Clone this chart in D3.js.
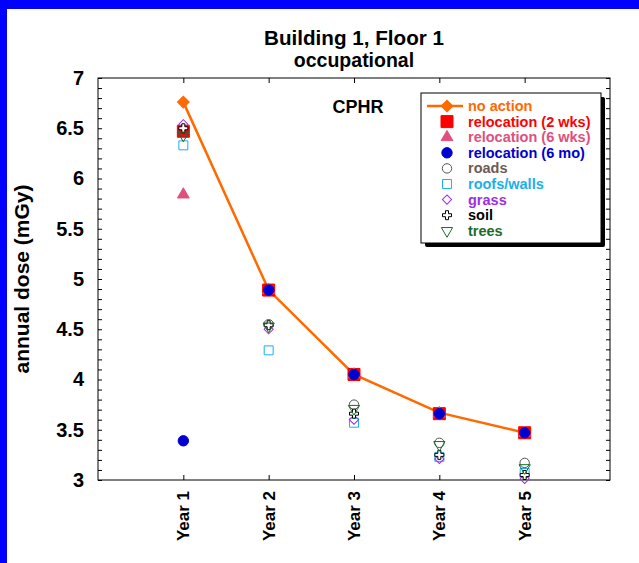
<!DOCTYPE html>
<html>
<head>
<meta charset="utf-8">
<script src="https://cdn.jsdelivr.net/npm/d3@7"></script>
<style>
  html, body { margin: 0; padding: 0; background: #fff; }
  svg text { font-family: "Liberation Sans", Arial, Helvetica, sans-serif; font-weight: bold; }
</style>
</head>
<body>
<svg id="chart" width="639" height="563"></svg>
<script>
// Annual dose by year for each remediation option
const years = ["Year 1", "Year 2", "Year 3", "Year 4", "Year 5"];
const yTicks = [3, 3.5, 4, 4.5, 5, 5.5, 6, 6.5, 7];

const noAction    = [6.76, 4.89, 4.05, 3.67, 3.47];
const reloc2wks   = [6.47, 4.89, 4.05, 3.66, 3.47];
const reloc6wks   = [5.84, 4.89, 4.05, 3.66, 3.47];
const reloc6mo    = [3.39, 4.89, 4.05, 3.66, 3.47];
const roads       = [6.47, 4.55, 3.75, 3.37, 3.17];
const roofsWalls  = [6.33, 4.29, 3.57, 3.23, 3.07];
const grass       = [6.54, 4.50, 3.60, 3.21, 3.01];
const soil        = [6.50, 4.54, 3.66, 3.25, 3.05];
const trees       = [6.43, 4.53, 3.71, 3.35, 3.12];

const svg = d3.select("#chart");

// blue frame on the left and top
svg.append("rect").attr("x", 0).attr("y", 0).attr("width", 639).attr("height", 9).attr("fill", "#0000ff");
svg.append("rect").attr("x", 0).attr("y", 0).attr("width", 7).attr("height", 563).attr("fill", "#0000ff");

const pLeft = 98, pRight = 610, pTop = 78, pBottom = 480;
const x = d3.scaleLinear().domain([0, 6]).range([pLeft, pRight]);
const y = d3.scaleLinear().domain([3, 7]).range([pBottom, pTop]);

// title
svg.append("text").attr("x", (pLeft + pRight) / 2).attr("y", 45).attr("text-anchor", "middle")
  .attr("font-size", 19.5).attr("textLength", 180).attr("lengthAdjust", "spacingAndGlyphs")
  .text("Building 1, Floor 1");
svg.append("text").attr("x", (pLeft + pRight) / 2).attr("y", 67).attr("text-anchor", "middle")
  .attr("font-size", 19.5).text("occupational");

// plot frame
svg.append("rect").attr("x", pLeft).attr("y", pTop).attr("width", pRight - pLeft).attr("height", pBottom - pTop)
  .attr("fill", "none").attr("stroke", "#000").attr("stroke-width", 1);

// minor y ticks every 0.1 on left and right sides, pointing inward
const minor = d3.range(30, 71).map(v => v / 10);
const yAxisL = d3.axisRight(y).tickValues(minor).tickSize(4).tickFormat("");
const yAxisR = d3.axisLeft(y).tickValues(minor).tickSize(4).tickFormat("");
svg.append("g").attr("transform", `translate(${pLeft},0)`).call(yAxisL).call(g => g.select(".domain").remove());
svg.append("g").attr("transform", `translate(${pRight},0)`).call(yAxisR).call(g => g.select(".domain").remove());

// y tick labels
svg.append("g").attr("transform", `translate(${pLeft},0)`)
  .call(d3.axisLeft(y).tickValues(yTicks).tickSize(0).tickPadding(14).tickFormat(d3.format("")))
  .call(g => g.select(".domain").remove())
  .call(g => g.selectAll("text").attr("font-size", 20).attr("fill", "#000")
    .style("font-family", "'Liberation Sans', Arial, sans-serif").style("font-weight", "bold"));

// x ticks at each year, top and bottom, pointing inward
const xIdx = [1, 2, 3, 4, 5];
svg.append("g").attr("transform", `translate(0,${pTop})`)
  .call(d3.axisBottom(x).tickValues(xIdx).tickSize(5).tickFormat(""))
  .call(g => g.select(".domain").remove());
svg.append("g").attr("transform", `translate(0,${pBottom})`)
  .call(d3.axisTop(x).tickValues(xIdx).tickSize(5).tickFormat(""))
  .call(g => g.select(".domain").remove());

// rotated year labels
svg.append("g").selectAll("text").data(years).join("text")
  .attr("transform", (d, i) => `translate(${x(i + 1) + 6},${pBottom + 11}) rotate(-90)`)
  .attr("text-anchor", "end").attr("font-size", 17).text(d => d);

// y axis title
svg.append("text").attr("transform", `translate(29,${(pTop + pBottom) / 2}) rotate(-90)`)
  .attr("text-anchor", "middle").attr("font-size", 21).text("annual dose (mGy)");

// CPHR tag
svg.append("text").attr("x", 358).attr("y", 113).attr("text-anchor", "middle")
  .attr("font-size", 18).text("CPHR");

// marker definitions (diamonds are squares turned 45 degrees)
const sym = (type, size) => d3.symbol().type(type).size(size)();
const series = [
  { name: "no action", vals: noAction, color: "#ff6a00", text: "#ff6a00", path: sym(d3.symbolSquare, 70), fill: "#ff6a00", line: true, rot: 45 },
  { name: "relocation (2 wks)", vals: reloc2wks, color: "#ff0000", text: "#ff0000", path: sym(d3.symbolSquare, 144), fill: "#ff0000" },
  { name: "relocation (6 wks)", vals: reloc6wks, color: "#e0507c", text: "#e0507c", path: sym(d3.symbolTriangle, 60), fill: "#e0507c" },
  { name: "relocation (6 mo)", vals: reloc6mo, color: "#0000d0", text: "#0000d0", path: sym(d3.symbolCircle, 85), fill: "#0000d0" },
  { name: "roads", vals: roads, color: "#555", text: "#6e5a55", path: sym(d3.symbolCircle, 70), fill: "none" },
  { name: "roofs/walls", vals: roofsWalls, color: "#1ab0ea", text: "#1ab0ea", path: sym(d3.symbolSquare, 80), fill: "none" },
  { name: "grass", vals: grass, color: "#9b30e0", text: "#9b30e0", path: sym(d3.symbolSquare, 42), fill: "none", rot: 45 },
  { name: "soil", vals: soil, color: "#000", text: "#000", path: sym(d3.symbolCross, 45), fill: "#fff" },
  { name: "trees", vals: trees, color: "#1b6b2b", text: "#1b6b2b", path: sym(d3.symbolTriangle, 55), fill: "none", rot: 180 }
];
const rotStr = s => (s.rot ? ` rotate(${s.rot})` : "");

// no action line
svg.append("path").datum(noAction)
  .attr("d", d3.line().x((d, i) => x(i + 1)).y(d => y(d)))
  .attr("fill", "none").attr("stroke", "#ff6a00").attr("stroke-width", 2.5);

// markers
series.forEach(s => {
  svg.append("g").selectAll("path").data(s.vals).join("path")
    .attr("d", s.path)
    .attr("transform", (d, i) => `translate(${x(i + 1)},${y(d)})` + rotStr(s))
    .attr("fill", s.fill).attr("stroke", s.color).attr("stroke-width", 1);
});

// legend
const lg = svg.append("g");
const lx = 421, ly = 93, lw = 180, lh = 150;
lg.append("rect").attr("x", lx + 4).attr("y", ly + 4).attr("width", lw).attr("height", lh).attr("fill", "#000").attr("rx", 2);
lg.append("rect").attr("x", lx).attr("y", ly).attr("width", lw).attr("height", lh).attr("fill", "#fff").attr("stroke", "#000");
series.forEach((s, i) => {
  const cy = 106 + i * 15.6;
  if (s.line) {
    lg.append("line").attr("x1", 427).attr("x2", 463).attr("y1", cy).attr("y2", cy)
      .attr("stroke", s.color).attr("stroke-width", 2.5);
  }
  lg.append("path").attr("d", s.path)
    .attr("transform", `translate(447,${cy})` + rotStr(s))
    .attr("fill", s.fill).attr("stroke", s.color);
  lg.append("text").attr("x", 468).attr("y", cy + 5).attr("font-size", 14.5)
    .attr("fill", s.text).text(s.name);
});
</script>
</body>
</html>
